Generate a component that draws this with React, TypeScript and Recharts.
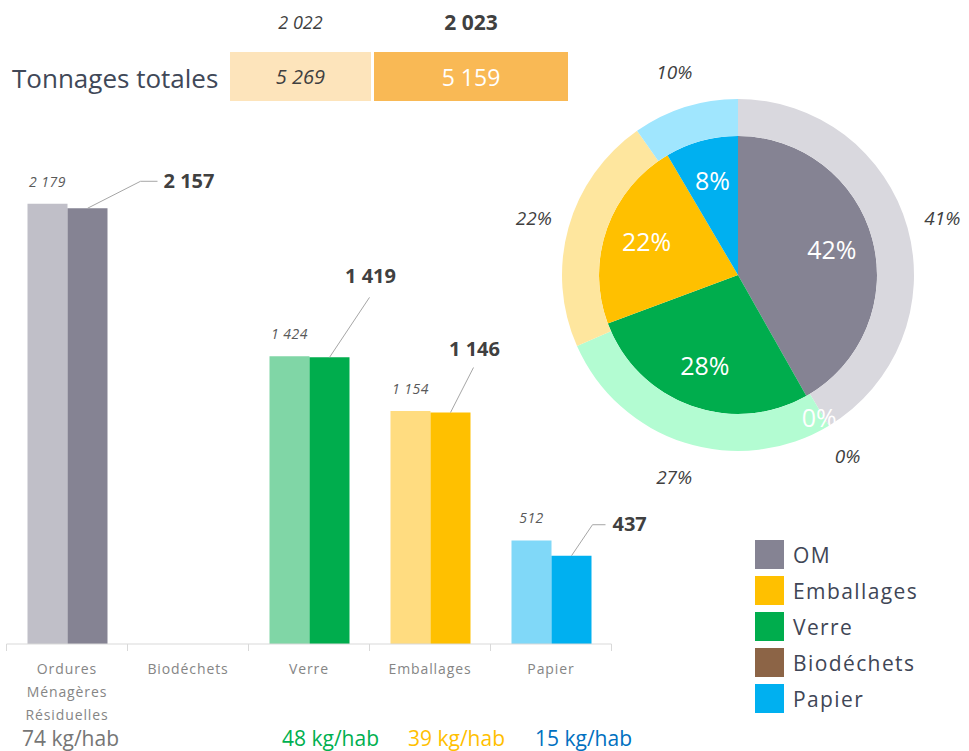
import { Bar, BarChart, Cell, LabelList, Pie, PieChart, XAxis, YAxis } from "recharts";

const categories = ["Ordures Ménagères Résiduelles", "Biodéchets", "Verre", "Emballages", "Papier"];
const pieNames = ["OM", "Biodéchets", "Verre", "Emballages", "Papier"];
const tonnes2022 = [2179, 0, 1424, 1154, 512];
const tonnes2023 = [2157, 0, 1419, 1146, 437];
const kgPerHab = [74, null, 48, 39, 15];
const years = [2022, 2023];
const totals = [5269, 5159];
const legendOrder = [0, 3, 2, 1, 4];

const colors2023 = ["#858393", "#8c6446", "#00ad4d", "#ffc000", "#00b0f0"];
const colors2022 = ["#c0bfc8", "#c7a78f", "#80d6a6", "#ffdc80", "#80d8f8"];
const ringColors = ["#d9d8de", "#c9a88f", "#b3fcd2", "#fee69e", "#a0e6fe"];
const kgColors = ["#767676", "", "#00b050", "#ffc000", "#0070c0"];
const kgLeft = [22, 0, 282, 408, 535];

// leader lines for the 2023 labels, relative to bar top centre
const leaders = [
  { ex: 53, ey: -27, hx: 17, tx: 76, ty: -27, anchor: "start" },
  null,
  { ex: 40, ey: -60, hx: 0, tx: 41, ty: -81, anchor: "middle" },
  { ex: 23, ey: -45, hx: 0, tx: 24, ty: -64, anchor: "middle" },
  { ex: 21, ey: -31, hx: 13, tx: 41, ty: -32, anchor: "start" },
];

const FONT = "'Open Sans', 'DejaVu Sans', sans-serif";
const RADIAN = Math.PI / 180;

const fmt = (v: number) => String(v).replace(/\B(?=(\d{3})+(?!\d))/g, " ");

const barRows = categories.map((name, i) => ({ name, y2022: tonnes2022[i], y2023: tonnes2023[i] }));
const pie2023 = pieNames.map((name, i) => ({ name, value: tonnes2023[i] }));
const pie2022 = pieNames.map((name, i) => ({ name, value: tonnes2022[i] }));

function AxisTick(props: any) {
  const { x, y, payload, index } = props;
  const half = payload.offset || 60.5;
  const lines = String(payload.value).split(" ");
  return (
    <g>
      <line x1={x - half} x2={x - half} y1={y - 8} y2={y - 1} stroke="#d9d9d9" />
      {index === categories.length - 1 ? (
        <line x1={x + half} x2={x + half} y1={y - 8} y2={y - 1} stroke="#d9d9d9" />
      ) : null}
      {lines.map((line, i) => (
        <text
          key={line}
          x={x}
          y={y + 22 + i * 23}
          textAnchor="middle"
          fill="#858585"
          fontSize={14}
          letterSpacing={0.9}
          fontFamily={FONT}
        >
          {line}
        </text>
      ))}
    </g>
  );
}

const renderLabel2022 = (p: any) => {
  const v = Number(p.value);
  if (!v) return null;
  const cx = Number(p.x) + Number(p.width) / 2;
  return (
    <text x={cx} y={Number(p.y) - 22} dy="0.35em" textAnchor="middle" fill="#595959" fontSize={14} fontStyle="italic" letterSpacing={0.5} fontFamily={FONT}>
      {fmt(v)}
    </text>
  );
};

const renderLabel2023 = (p: any) => {
  const v = Number(p.value);
  if (!v) return null;
  const s = leaders[tonnes2023.indexOf(v)];
  if (!s) return null;
  const cx = Number(p.x) + Number(p.width) / 2;
  const top = Number(p.y);
  const pts = [
    [cx, top],
    [cx + s.ex, top + s.ey],
    [cx + s.ex + s.hx, top + s.ey],
  ];
  return (
    <g>
      <polyline points={pts.map((q) => q.join(",")).join(" ")} fill="none" stroke="#a6a6a6" strokeWidth={1} />
      <text x={cx + s.tx} y={top + s.ty} dy="0.35em" textAnchor={s.anchor as any} fill="#404040" fontSize={20} fontWeight={700} fontFamily={FONT}>
        {fmt(v)}
      </text>
    </g>
  );
};

const renderInnerLabel = (p: any) => {
  const r = p.value ? 97 : 165;
  const x = p.cx + r * Math.cos(-p.midAngle * RADIAN);
  const y = p.cy + r * Math.sin(-p.midAngle * RADIAN);
  return (
    <text x={x} y={y} dy="0.35em" textAnchor="middle" fill="#ffffff" fontSize={25} fontFamily={FONT}>
      {Math.round(p.percent * 100)}%
    </text>
  );
};

const renderOuterLabel = (p: any) => {
  const r = 212;
  const x = p.cx + r * Math.cos(-p.midAngle * RADIAN);
  const y = p.cy + r * Math.sin(-p.midAngle * RADIAN);
  return (
    <text x={x} y={y} dy="0.35em" textAnchor="middle" fill="#404040" fontSize={19} fontStyle="italic" fontFamily={FONT}>
      {Math.round(p.percent * 100)}%
    </text>
  );
};

export default function App() {
  return (
    <div style={{ position: "absolute", left: 0, top: 0, width: 969, height: 751, background: "#ffffff", fontFamily: FONT, overflow: "hidden" }}>
      {/* totals header */}
      <div style={{ position: "absolute", left: 12, top: 59, fontSize: 26, color: "#404858", lineHeight: "38px" }}>Tonnages totales</div>
      <div style={{ position: "absolute", left: 230, top: 10, width: 141, textAlign: "center", fontSize: 18, fontStyle: "italic", color: "#404040" }}>
        {fmt(years[0])}
      </div>
      <div style={{ position: "absolute", left: 374, top: 8, width: 194, textAlign: "center", fontSize: 21, fontWeight: 700, color: "#404040" }}>
        {fmt(years[1])}
      </div>
      <div style={{ position: "absolute", left: 230, top: 52, width: 141, height: 49, background: "#fde4bb", display: "flex", alignItems: "center", justifyContent: "center", fontSize: 20, fontStyle: "italic", color: "#404040" }}>
        {fmt(totals[0])}
      </div>
      <div style={{ position: "absolute", left: 374, top: 52, width: 194, height: 49, background: "#f9b955", display: "flex", alignItems: "center", justifyContent: "center", fontSize: 23, color: "#ffffff" }}>
        {fmt(totals[1])}
      </div>

      {/* bars */}
      <div style={{ position: "absolute", left: 0, top: 0 }}>
        <BarChart width={690} height={751} data={barRows} margin={{ top: 139, right: 78.5, left: 6.5, bottom: 7 }} barGap={0} barSize={40}>
          <XAxis dataKey="name" axisLine={{ stroke: "#d9d9d9" }} tickLine={false} height={100} interval={0} tick={<AxisTick />} />
          <YAxis hide domain={[0, 2500]} />
          <Bar dataKey="y2022" isAnimationActive={false}>
            {barRows.map((row, i) => (
              <Cell key={row.name} fill={colors2022[i]} />
            ))}
            <LabelList dataKey="y2022" content={renderLabel2022} />
          </Bar>
          <Bar dataKey="y2023" isAnimationActive={false}>
            {barRows.map((row, i) => (
              <Cell key={row.name} fill={colors2023[i]} />
            ))}
            <LabelList dataKey="y2023" content={renderLabel2023} />
          </Bar>
        </BarChart>
      </div>

      {/* kg per inhabitant */}
      {kgPerHab.map((v, i) =>
        v === null ? null : (
          <div key={i} style={{ position: "absolute", left: kgLeft[i], top: 723, fontSize: 21, lineHeight: "30px", color: kgColors[i] }}>
            {v} kg/hab
          </div>
        ),
      )}

      {/* donut: inner 2023, outer ring 2022 */}
      <div style={{ position: "absolute", left: 480, top: 40 }}>
        <PieChart width={489} height={470} margin={{ top: 0, right: 0, bottom: 0, left: 0 }}>
          <Pie
            data={pie2023}
            dataKey="value"
            nameKey="name"
            cx={258}
            cy={235}
            innerRadius={0}
            outerRadius={139}
            startAngle={90}
            endAngle={-270}
            stroke="none"
            label={renderInnerLabel}
            labelLine={false}
            isAnimationActive={false}
          >
            {pie2023.map((d, i) => (
              <Cell key={d.name} fill={colors2023[i]} />
            ))}
          </Pie>
          <Pie
            data={pie2022}
            dataKey="value"
            nameKey="name"
            cx={258}
            cy={235}
            innerRadius={139}
            outerRadius={176}
            startAngle={90}
            endAngle={-270}
            stroke="none"
            label={renderOuterLabel}
            labelLine={false}
            isAnimationActive={false}
          >
            {pie2022.map((d, i) => (
              <Cell key={d.name} fill={ringColors[i]} />
            ))}
          </Pie>
        </PieChart>
      </div>

      {/* legend */}
      <div style={{ position: "absolute", left: 755, top: 540 }}>
        {legendOrder.map((idx) => (
          <div key={idx} style={{ display: "flex", alignItems: "center", height: 36 }}>
            <span style={{ display: "inline-block", width: 29, height: 29, background: colors2023[idx], marginRight: 9, marginTop: -7 }} />
            <span style={{ fontSize: 21, color: "#404656", letterSpacing: 1.4, marginTop: -7 }}>{pieNames[idx]}</span>
          </div>
        ))}
      </div>
    </div>
  );
}
